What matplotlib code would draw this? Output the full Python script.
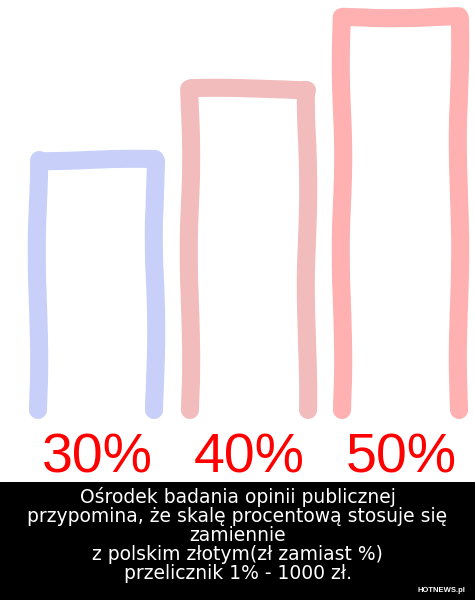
import numpy as np
import matplotlib
matplotlib.use("Agg")
import matplotlib.pyplot as plt

# dane
labels = ["30%", "40%", "50%"]
values = [30, 40, 50]
colors = ["#c8cff8", "#f2bcbc", "#ffb0b0"]
caption = ("Ośrodek badania opinii publicznej\n"
           "przypomina, że skalę procentową stosuje się\n"
           "zamiennie\n"
           "z polskim złotym(zł zamiast %)\n"
           "przelicznik 1% - 1000 zł.")
source = "HOTNEWS.pl"

W, H = 475, 600
fig = plt.figure(figsize=(W / 100, H / 100), dpi=100)
fig.patch.set_facecolor("white")

# gorna czesc - "wykres" rysowany reka
ax = fig.add_axes([0, 118 / H, 1, 482 / H])
ax.set_xlim(-0.638, 2.487)
ax.set_ylim(-15, 52.4)
ax.axis("off")

base = -5
half = 0.385
np.random.seed(3)
for i, (v, c) in enumerate(zip(values, colors)):
    xs = [i - half, i - half, i + half, i + half]
    ys = [base, v, v, base]
    line, = ax.plot(xs, ys, color=c, lw=13, solid_capstyle="round",
                    solid_joinstyle="round")
    line.set_sketch_params(scale=1.2, length=250, randomness=3)
    ax.text(i, -11.7, labels[i], color="#ff0000", ha="center", va="center",
            fontsize=40, family="Liberation Sans")

# dolny czarny pasek z podpisem
bx = fig.add_axes([0, 0, 1, 118 / H])
bx.set_xlim(0, 1)
bx.set_ylim(0, 1)
bx.axis("off")
bx.add_patch(plt.Rectangle((0, 0), 1, 1, color="black"))
bx.text(0.5, 0.55, caption, color="white", ha="center", va="center",
        fontsize=13.5, linespacing=1.0, family="DejaVu Sans")
bx.text(0.98, 0.08, source, color="white", ha="right", va="center",
        fontsize=5.5, fontweight="bold", family="Liberation Sans")

fig.savefig("out.png", dpi=100)
